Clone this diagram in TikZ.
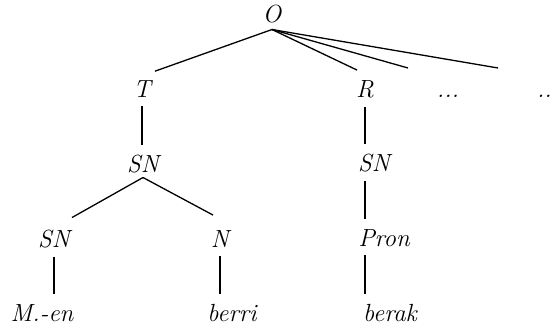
\documentclass[tikz,border=0pt]{standalone}
\usetikzlibrary{calc}

\begin{document}
\begin{tikzpicture}[x=1pt, y=1pt]

  % Styles for labels, vertical stems and slanted arms
  \tikzset{tag/.style={font=\fontsize{24.8}{30}\selectfont\itshape, inner sep=0pt, outer sep=0pt, anchor=base}}
  \tikzset{stem/.style={line width=1.3pt, shorten <=8pt, shorten >=11pt}}
  \tikzset{arm/.style={line width=1.3pt}}

  \useasboundingbox (0,0) rectangle (552,326);

  % Root and first level
  \node[tag] (o) at (272,303) {O};
  \node[tag] (t) at (142,228) {T};
  \node[tag] (r) at (365,228) {R};
  \node[tag] (dots) at (448,228) {...};
  \node[tag, anchor=base west] (more) at (537,228) {..};

  % Second level
  \node[tag] (snt) at (143,153) {SN};
  \node[tag] (snr) at (374,154) {SN};

  % Third level
  \node[tag] (snl) at (54,78) {SN};
  \node[tag] (n) at (220,78) {N};
  \node[tag] (pron) at (384,79) {Pron};

  % Words
  \node[tag] (men) at (42,4) {M.-en};
  \node[tag] (berri) at (232,4) {berri};
  \node[tag] (berak) at (390,4) {berak};

  % Points where the arms meet
  \coordinate (o-foot) at ([yshift=-6pt]o.south);
  \coordinate (snt-foot) at ([yshift=-4pt]snt.south);
  \coordinate (dots-arm) at (408,258);
  \coordinate (more-arm) at (498,258);

  % Arms out of the root
  \draw[arm] (o-foot) -- ([shift={(13pt,10pt)}]t.north);
  \draw[arm] (o-foot) -- ([shift={(-8pt,11pt)}]r.north);
  \draw[arm] (o-foot) -- (dots-arm);
  \draw[arm] (o-foot) -- (more-arm);

  % Arms out of the left SN
  \draw[arm] (snt-foot) -- ([shift={(18pt,13pt)}]snl.north);
  \draw[arm] (snt-foot) -- ([shift={(-7pt,16pt)}]n.north);

  % Vertical stems
  \draw[stem] (t.south) -- (t.south |- snt.north);
  \draw[stem] (r.south) -- (r.south |- snr.north);
  \draw[stem] (r.south |- snr.south) -- (r.south |- pron.north);
  \draw[stem] (r.south |- pron.south) -- (r.south |- berak.north);
  \draw[stem] (snl.south) -- (snl.south |- men.north);
  \draw[stem] (n.south) -- (n.south |- berri.north);

\end{tikzpicture}
\end{document}
